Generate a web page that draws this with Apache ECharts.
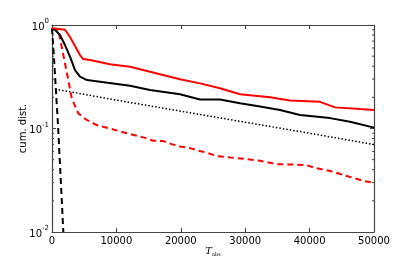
<!DOCTYPE html>
<html><head><meta charset="utf-8">
<script src="https://cdn.jsdelivr.net/npm/echarts@6/dist/echarts.min.js"></script>
<style>html,body{margin:0;padding:0;background:#fff}#c{width:415px;height:258px}</style>
</head><body><div id="c"></div>
<script>
// x values (T_abs) and cumulative distribution values
const redSolidX = [0, 2019, 2795, 3572, 4348, 4814, 5901, 9007, 12113, 15219, 17238, 19878, 22984, 26090, 29196, 33855, 36961, 41620, 43950, 47832, 50000];
const redSolidY = [0.93, 0.9, 0.766, 0.627, 0.513, 0.47, 0.459, 0.417, 0.395, 0.354, 0.329, 0.299, 0.273, 0.245, 0.214, 0.2, 0.186, 0.181, 0.16, 0.154, 0.151];

const blackSolidX = [0, 466, 1242, 2019, 2795, 3572, 4348, 5435, 7454, 12113, 15219, 19878, 22984, 26090, 29196, 32302, 35408, 38514, 43173, 46279, 50000];
const blackSolidY = [0.92, 0.9, 0.8, 0.64, 0.494, 0.367, 0.317, 0.294, 0.283, 0.259, 0.236, 0.214, 0.191, 0.191, 0.175, 0.163, 0.151, 0.135, 0.126, 0.116, 0.102];

const redDashX = [0, 978, 1506, 2019, 2531, 3059, 3308, 4084, 5389, 6942, 9007, 11601, 14179, 15732, 17285, 18590, 19878, 21431, 22720, 24025, 25578, 27643, 30237, 32302, 34896, 37474, 39555, 40844, 43173, 45767, 48345, 50000];
const redDashY = [0.93, 0.895, 0.617, 0.426, 0.294, 0.196, 0.188, 0.14, 0.121, 0.108, 0.1, 0.0899, 0.0821, 0.0762, 0.0756, 0.0706, 0.067, 0.0646, 0.0612, 0.0584, 0.0542, 0.0526, 0.0507, 0.0488, 0.0452, 0.0449, 0.0442, 0.0416, 0.0389, 0.0348, 0.0311, 0.0300];

const blackDashX = [0, 78, 233, 466, 699, 932, 1165, 1398, 1631, 1760];
const blackDashY = [0.93, 0.915, 0.573, 0.329, 0.188, 0.108, 0.0554, 0.0284, 0.0146, 0.01];

const dottedX = [500, 10000, 20000, 30000, 40000, 50000];
const dottedY = [0.24, 0.188, 0.147, 0.115, 0.09, 0.07];

const xTicks = [0, 10000, 20000, 30000, 40000, 50000];
const yTickLabels = {1: '0', 0.1: '-1', 0.01: '-2'};
const minorVals = [0.02,0.03,0.04,0.05,0.06,0.07,0.08,0.09,0.2,0.3,0.4,0.5,0.6,0.7,0.8,0.9];

const zip = (xs, ys) => xs.map((x, i) => [x, ys[i]]);
const chart = echarts.init(document.getElementById('c'), null, {renderer: 'canvas'});
const axisCol = '#444';
const font = 'DejaVu Sans';

const option = {
  animation: false,
  backgroundColor: '#fff',
  grid: {left: 52, right: 41, top: 25, bottom: 26, containLabel: false, outerBoundsMode: 'none'},
  xAxis: [{
    type: 'value', min: 0, max: 50000, interval: 10000, position: 'bottom',
    axisLine: {show: true, onZero: false, lineStyle: {color: axisCol, width: 1.2}},
    axisTick: {show: true, inside: true, length: 4, lineStyle: {color: axisCol}},
    axisLabel: {color: '#000', fontFamily: font, fontSize: 10, margin: 4,
      formatter: v => xTicks.includes(v) ? String(v) : ''},
    splitLine: {show: false},
    name: '{t|T}{s|abs}', nameLocation: 'middle', nameGap: 14, nameMoveOverlap: false,
    nameTextStyle: {rich: {
      t: {fontFamily: 'DejaVu Serif', fontStyle: 'italic', fontSize: 10, color: '#000'},
      s: {fontFamily: 'DejaVu Serif', fontSize: 5, color: '#000', verticalAlign: 'bottom', padding: [6,0,0,0]}
    }}
  }, {
    type: 'value', min: 0, max: 50000, interval: 10000, position: 'top',
    axisLine: {show: true, onZero: false, lineStyle: {color: axisCol, width: 1.2}},
    axisTick: {show: true, inside: true, length: 4, lineStyle: {color: axisCol}},
    axisLabel: {show: false}, splitLine: {show: false}
  }],
  yAxis: [{
    type: 'log', logBase: 10, min: 0.01, max: 1, position: 'left',
    axisLine: {show: true, onZero: false, lineStyle: {color: axisCol, width: 1.2}},
    axisTick: {show: true, inside: true, length: 4, lineStyle: {color: axisCol}},
    axisLabel: {
      fontFamily: font, margin: 3,
      formatter: v => { const k = Object.keys(yTickLabels).find(t => Math.abs(+t - v) < v*1e-6); return k ? '{b|10}{e|' + yTickLabels[k] + '}' : ''; },
      rich: {b: {fontSize: 10, fontFamily: font, color: '#000', padding: [4,0,0,0]}, e: {fontSize: 7, fontFamily: font, color: '#000', verticalAlign: 'top', padding: [0,0,4,0]}}
    },
    splitLine: {show: false},
    name: 'cum. dist.', nameLocation: 'middle', nameGap: 24, nameMoveOverlap: false,
    nameTextStyle: {fontFamily: font, fontSize: 10, color: '#000'}
  }, {
    type: 'log', logBase: 10, min: 0.01, max: 1, position: 'right',
    axisLine: {show: true, onZero: false, lineStyle: {color: axisCol, width: 1.2}},
    axisTick: {show: true, inside: true, length: 4, lineStyle: {color: axisCol}},
    axisLabel: {show: false}, splitLine: {show: false}
  }],
  series: [
    {type: 'line', data: zip(dottedX, dottedY), showSymbol: false, lineStyle: {color: '#000', width: 1.5, type: [1.5, 2]}, z: 2},
    {type: 'line', data: zip(blackDashX, blackDashY), showSymbol: false, clip: true, lineStyle: {color: '#000', width: 2, type: [6, 4]}, z: 3},
    {type: 'line', data: zip(redDashX, redDashY), showSymbol: false, lineStyle: {color: '#ff0000', width: 2, type: [6, 4]}, z: 3},
    {type: 'line', data: zip(blackSolidX, blackSolidY), showSymbol: false, lineStyle: {color: '#000', width: 2}, z: 4},
    {type: 'line', data: zip(redSolidX, redSolidY), showSymbol: false, lineStyle: {color: '#ff0000', width: 2}, z: 5},
    {type: 'custom', data: minorVals.map(v => [0, v]), encode: {x: 0, y: 1}, silent: true, z: 1,
      renderItem: (params, api) => {
        const v = api.value(1);
        const l = api.coord([0, v]);
        const r = api.coord([50000, v]);
        const st = {stroke: axisCol, lineWidth: 1};
        return {type: 'group', children: [
          {type: 'line', shape: {x1: l[0], y1: l[1], x2: l[0] + 2, y2: l[1]}, style: st},
          {type: 'line', shape: {x1: r[0], y1: r[1], x2: r[0] - 2, y2: r[1]}, style: st}
        ]};
      }}
  ]
};
chart.setOption(option);
</script></body></html>
